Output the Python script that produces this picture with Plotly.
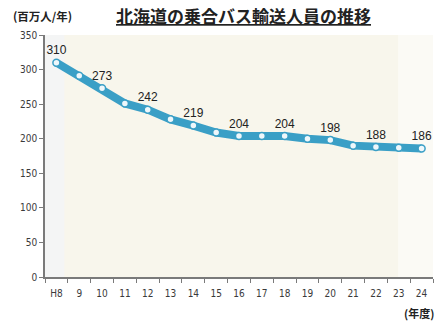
import plotly.graph_objects as go

# 北海道の乗合バス輸送人員（百万人/年）
years = ["H8", "9", "10", "11", "12", "13", "14", "15", "16", "17",
         "18", "19", "20", "21", "22", "23", "24"]
riders = [310, 291, 273, 251, 242, 228, 219, 209, 204, 204,
          204, 200, 198, 190, 188, 187, 186]
labeled_years = ["H8", "10", "12", "14", "16", "18", "20", "22", "24"]

label_text = [str(v) if y in labeled_years else "" for y, v in zip(years, riders)]

# plot area in page pixels
L, R, T, B = 45, 8, 35, 48
W, H = 441, 325
pw, ph = W - L - R, H - T - B


def px_x(x):
    return (x - L) / pw


def px_y(y):
    return (H - B - y) / ph


fig = go.Figure()
fig.add_trace(go.Scatter(
    x=years, y=riders,
    mode="lines+markers+text",
    line=dict(color="#3a9fc6", width=8),
    marker=dict(size=7, color="#eef7fb", line=dict(color="#3a9fc6", width=1.5)),
    text=label_text,
    textposition="top center",
    textfont=dict(family="Liberation Sans, Arial", size=12, color="#222222"),
    cliponaxis=False,
    hoverinfo="skip",
))

tickfont = dict(family="DejaVu Sans Condensed, DejaVu Sans", size=10, color="#3a3a3a")

fig.update_layout(
    width=W, height=H,
    margin=dict(l=L, r=R, t=T, b=B),
    paper_bgcolor="white",
    plot_bgcolor="#f8f6ec",
    showlegend=False,
    xaxis=dict(
        type="category",
        range=[-0.5, 16.5],
        showgrid=False,
        showline=True, linecolor="#7a7a7a", linewidth=1.5,
        ticks="outside", ticklen=4, tickcolor="#7a7a7a",
        tickson="boundaries",
        ticklabelstandoff=6,
        tickfont=tickfont,
        fixedrange=True,
    ),
    yaxis=dict(
        range=[0, 350],
        dtick=50,
        showgrid=False,
        zeroline=False,
        showline=True, linecolor="#7a7a7a", linewidth=1.5,
        ticks="outside", ticklen=4, tickcolor="#7a7a7a",
        tickfont=tickfont,
        fixedrange=True,
    ),
    shapes=[
        # paler strips along the left and right edges of the plot area
        dict(type="rect", xref="x domain", yref="y domain",
             x0=0, x1=0.05, y0=0, y1=1, layer="below",
             fillcolor="#f4f5f5", line=dict(width=0)),
        dict(type="rect", xref="x domain", yref="y domain",
             x0=0.91, x1=1, y0=0, y1=1, layer="below",
             fillcolor="#fbfaf5", line=dict(width=0)),
    ],
    annotations=[
        dict(text="<b><u>北海道の乗合バス輸送人員の推移</u></b>",
             x=px_x(243), y=px_y(15), xref="paper", yref="paper", showarrow=False,
             font=dict(family="Noto Sans CJK JP", size=17, color="#222222"),
             xanchor="center", yanchor="middle"),
        dict(text="<b>(百万人/年)</b>",
             x=px_x(11), y=px_y(16), xref="paper", yref="paper", showarrow=False,
             font=dict(family="Noto Sans CJK JP", size=11.5, color="#222222"),
             xanchor="left", yanchor="middle"),
        dict(text="<b>(年度)</b>",
             x=px_x(436), y=px_y(313), xref="paper", yref="paper", showarrow=False,
             font=dict(family="Noto Sans CJK JP", size=11, color="#222222"),
             xanchor="right", yanchor="middle"),
    ],
)

fig.write_html("out.html")
